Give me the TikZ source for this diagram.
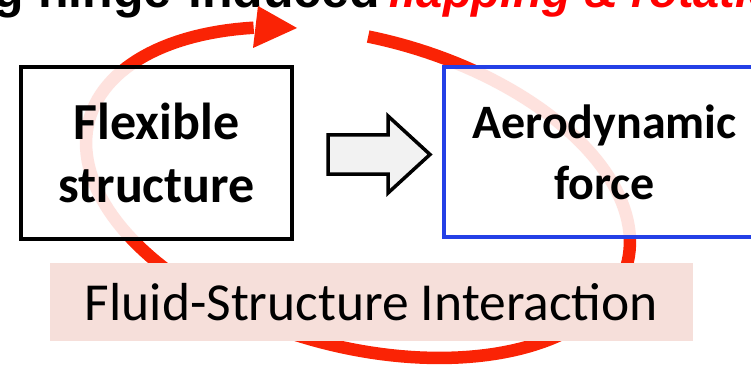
\documentclass[tikz,border=0pt]{standalone}
\usepackage{fontspec}
\setmainfont{Carlito}
\newfontfamily\titlefont{Liberation Sans}
\definecolor{ringred}{RGB}{250,35,5}
\definecolor{titlered}{RGB}{255,0,0}
\definecolor{boxblue}{RGB}{36,64,230}
\definecolor{fsipink}{RGB}{246,223,218}
\definecolor{arrowgray}{RGB}{242,242,242}
\begin{document}
\begin{tikzpicture}[x=1pt,y=-1pt,
  boxstyle/.style={draw, line width=4pt, fill=white, fill opacity=0.87, text opacity=1,
    align=center, inner sep=0pt},
  fsistyle/.style={fill=fsipink, inner sep=0pt, minimum width=643pt, minimum height=78pt,
    font=\fontsize{53.5}{60}\selectfont},
  ringstyle/.style={draw=ringred, line width=12.5pt, line cap=butt},
  blockarrow/.style={draw=black, line width=3.5pt, fill=arrowgray, line join=miter},
  titleblack/.style={inner sep=0pt, anchor=base east, font=\titlefont\bfseries\fontsize{50}{60}\selectfont},
  titlered/.style={inner sep=0pt, anchor=base west, text=titlered, font=\titlefont\bfseries\itshape\fontsize{47}{50}\selectfont}
]
\useasboundingbox (0,0) rectangle (751,366);
\clip (0,0) rectangle (751,366);
% title (cut off at the top)
\node[titleblack] (tblack) at (380,8) {g hinge-induced};
\node[titlered] (tred) at (388,8) {flapping \& rotation};
% red feedback loop (tilted ellipse, clockwise)
\draw[ringstyle] plot[domain=-96.3:239, samples=160, variable=\t]
  ({358 + 278.5*cos(\t)*cos(15) - 154.2*sin(\t)*sin(15)},
   {192.5 + 278.5*cos(\t)*sin(15) + 154.2*sin(\t)*cos(15)});
\fill[ringred] (258,6) -- (297,28) -- (253,48) -- cycle;
% boxes
\node[boxstyle, draw=black, minimum width=271pt, minimum height=172pt,
  font=\bfseries\fontsize{52}{63}\selectfont] (fs) at (156.5,153) {Flexible\\structure};
\node[boxstyle, draw=boxblue, line width=3.5pt, minimum width=321pt, minimum height=170pt,
  font=\bfseries\fontsize{48}{61}\selectfont] (af) at (604.5,152) {Aerodynamic\\force};
\node[fsistyle] (fsi) at (371.5,302) {Fluid-Structure Interaction};
% block arrow
\draw[blockarrow] (328,135) -- (388,135) -- (388,116) -- (430,154.5) -- (388,193) -- (388,174) -- (328,174) -- cycle;
\end{tikzpicture}
\end{document}
